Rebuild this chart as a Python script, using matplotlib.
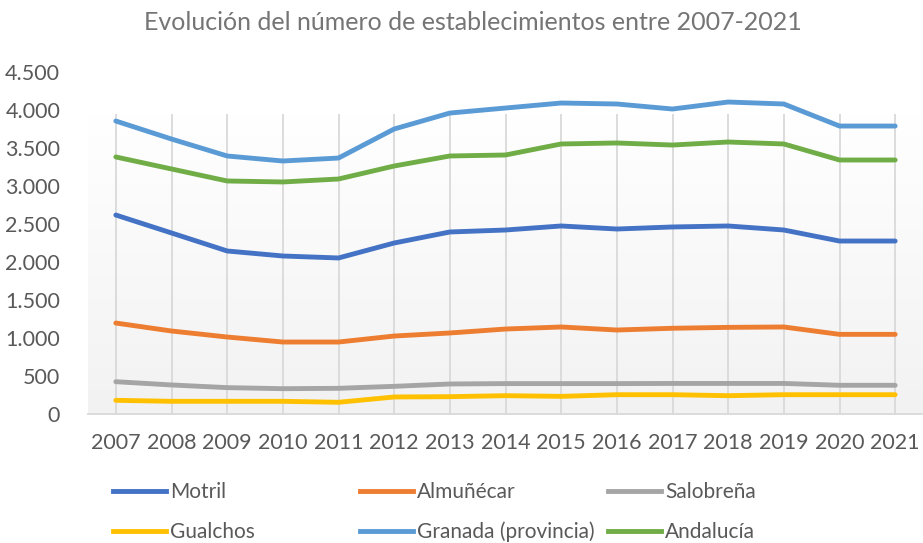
import numpy as np
import matplotlib.pyplot as plt
from matplotlib.lines import Line2D
from matplotlib.colors import LinearSegmentedColormap

plt.rcParams['font.family'] = ['Lato', 'DejaVu Sans']

# Datos
years = list(range(2007, 2022))
motril = [2618, 2382, 2145, 2079, 2053, 2250, 2395, 2421, 2474, 2434, 2461, 2474, 2421, 2276, 2276]
almunecar = [1197, 1092, 1013, 947, 947, 1026, 1066, 1118, 1145, 1105, 1128, 1140, 1145, 1048, 1048]
salobrena = [425, 382, 347, 333, 338, 364, 395, 400, 400, 400, 402, 402, 402, 378, 378]
gualchos = [180, 167, 167, 167, 154, 224, 228, 241, 232, 254, 254, 241, 254, 254, 254]
granada = [3855, 3618, 3395, 3329, 3368, 3750, 3960, 4026, 4092, 4079, 4013, 4105, 4079, 3789, 3789]
andalucia = [3382, 3224, 3066, 3053, 3092, 3263, 3395, 3408, 3553, 3566, 3539, 3579, 3553, 3342, 3342]

series = [
    ('Motril', motril, '#4472C4'),
    ('Almuñécar', almunecar, '#ED7D31'),
    ('Salobreña', salobrena, '#A5A5A5'),
    ('Gualchos', gualchos, '#FFC000'),
    ('Granada (provincia)', granada, '#5B9BD5'),
    ('Andalucía', andalucia, '#70AD47'),
]

fig = plt.figure(figsize=(9.23, 5.43), dpi=100)
ax = fig.add_axes([88 / 923, 129 / 543, 835 / 923, 342 / 543])

x0, x1 = 2006.5, 2021.5
area_top = 3950  # el área de trazado de Excel no llega hasta 4.500

# Fondo degradado del área de trazado
grad = np.linspace(1, 0, 256).reshape(-1, 1)
cmap = LinearSegmentedColormap.from_list('g', ['#f2f2f2', '#ffffff'])
ax.imshow(grad, extent=[x0, x1, 0, area_top], aspect='auto', cmap=cmap, zorder=0)

# Líneas de división verticales
ax.vlines(years, 0, area_top, color='#d9d9d9', linewidth=1.3, zorder=1)

for name, vals, color in series:
    ax.plot(years, vals, color=color, linewidth=3.5, label=name,
            solid_capstyle='round', zorder=3)

ax.set_xlim(x0, x1)
ax.set_ylim(0, 4500)
ax.set_xticks(years)
ax.set_yticks(range(0, 4501, 500))
ax.set_yticklabels([f'{v:,}'.replace(',', '.') for v in range(0, 4501, 500)])
for s in ['top', 'right', 'left']:
    ax.spines[s].set_visible(False)
ax.spines['bottom'].set_color('#d9d9d9')
ax.spines['bottom'].set_linewidth(1.3)
ax.tick_params(length=0, labelsize=15.5, labelcolor='#595959')
ax.tick_params(axis='x', pad=14)
ax.tick_params(axis='y', pad=20)

fig.text(473 / 923, 1 - 22 / 543, 'Evolución del número de establecimientos entre 2007-2021',
         ha='center', va='center', fontsize=18, color='#757575')

# Leyenda en tres columnas
col_x = [113, 360, 608]
for i, cx in enumerate(col_x):
    items = [series[i], series[i + 3]]
    handles = [Line2D([], [], color=c, linewidth=3.5) for _, _, c in items]
    labels = [n for n, _, _ in items]
    fig.legend(handles, labels, loc='upper left',
               bbox_to_anchor=(cx / 923, 1 - 482 / 543),
               frameon=False, fontsize=15, labelcolor='#595959',
               handlelength=2.55, handletextpad=0.2, borderpad=0,
               borderaxespad=0, labelspacing=0.95)

fig.savefig('out.png', dpi=100)
